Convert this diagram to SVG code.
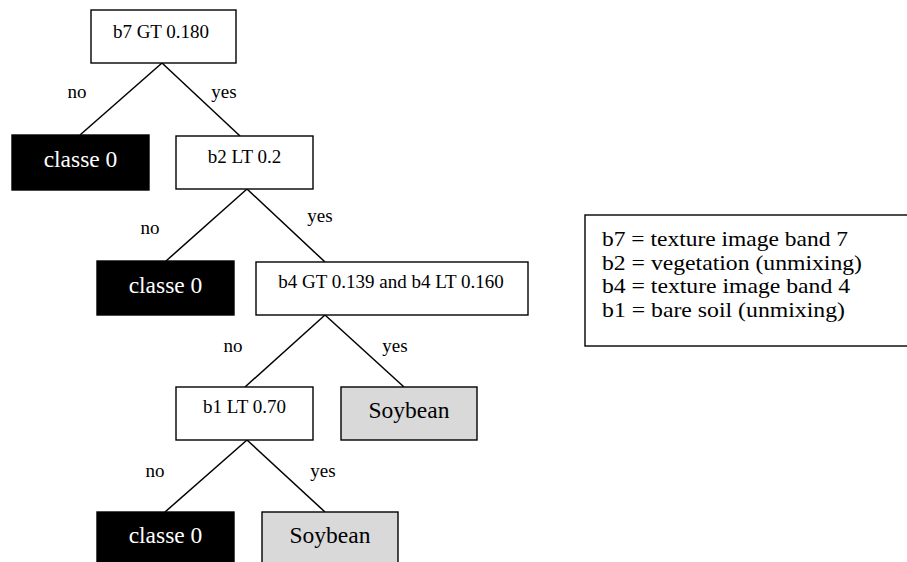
<svg xmlns="http://www.w3.org/2000/svg" width="907" height="562" viewBox="0 0 907 562">
<style>
text{font-family:'Liberation Serif','Times New Roman','DejaVu Serif',serif;fill:#000}
.box{fill:#fff;stroke:#000;stroke-width:1.4}
.blk{fill:#000;stroke:#000;stroke-width:1.4}
.gry{fill:#d9d9d9;stroke:#000;stroke-width:1.4}
.t19{font-size:19px;text-anchor:middle}
.t23{font-size:23.5px;text-anchor:middle}
.w{fill:#fff}
.lbl{font-size:19px;text-anchor:middle}
.edge{stroke:#000;stroke-width:1.5;fill:none}
.leg{font-size:21.5px}
</style>
<rect width="907" height="562" fill="#fff"/>
<g id="connectors">
<line class="edge" x1="162" y1="63" x2="80" y2="135"/>
<line class="edge" x1="162" y1="63" x2="240" y2="136"/>
<line class="edge" x1="247" y1="189" x2="166" y2="261"/>
<line class="edge" x1="247" y1="189" x2="325" y2="262"/>
<line class="edge" x1="325" y1="315" x2="245" y2="387"/>
<line class="edge" x1="325" y1="315" x2="404" y2="387"/>
<line class="edge" x1="247" y1="440" x2="165" y2="512"/>
<line class="edge" x1="247" y1="440" x2="325" y2="512"/>
<text class="lbl" x="77" y="98" font-family="Liberation Serif, serif">no</text>
<text class="lbl" x="224" y="98" font-family="Liberation Serif, serif">yes</text>
<text class="lbl" x="150" y="234" font-family="Liberation Serif, serif">no</text>
<text class="lbl" x="320" y="222" font-family="Liberation Serif, serif">yes</text>
<text class="lbl" x="233" y="352" font-family="Liberation Serif, serif">no</text>
<text class="lbl" x="395" y="352" font-family="Liberation Serif, serif">yes</text>
<text class="lbl" x="155" y="477" font-family="Liberation Serif, serif">no</text>
<text class="lbl" x="323" y="477" font-family="Liberation Serif, serif">yes</text>
</g>
<g id="n_b7">
<rect class="box" x="91" y="10" width="145" height="53"/>
<text class="t19" x="161" y="38" font-family="Liberation Serif, serif">b7 GT 0.180</text>
</g>
<g id="n_c0a">
<rect class="blk" x="12" y="135" width="137" height="55"/>
<text class="t23 w" x="80.5" y="167" font-family="Liberation Serif, serif">classe 0</text>
</g>
<g id="n_b2">
<rect class="box" x="176" y="136" width="137" height="53"/>
<text class="t19" x="244.5" y="163" font-family="Liberation Serif, serif">b2 LT 0.2</text>
</g>
<g id="n_c0b">
<rect class="blk" x="97" y="261" width="137" height="54"/>
<text class="t23 w" x="165.5" y="293" font-family="Liberation Serif, serif">classe 0</text>
</g>
<g id="n_b4">
<rect class="box" x="256" y="262" width="272" height="53"/>
<text class="t19" x="391" y="288" font-family="Liberation Serif, serif">b4 GT 0.139 and b4 LT 0.160</text>
</g>
<g id="n_b1">
<rect class="box" x="176" y="387" width="137" height="53"/>
<text class="t19" x="244.5" y="413" font-family="Liberation Serif, serif">b1 LT 0.70</text>
</g>
<g id="n_soy1">
<rect class="gry" x="341" y="387" width="136" height="53"/>
<text class="t23" x="409" y="418" font-family="Liberation Serif, serif">Soybean</text>
</g>
<g id="n_c0c">
<rect class="blk" x="97" y="512" width="137" height="54"/>
<text class="t23 w" x="165.5" y="543" font-family="Liberation Serif, serif">classe 0</text>
</g>
<g id="n_soy2">
<rect class="gry" x="262" y="512" width="136" height="54"/>
<text class="t23" x="330" y="543" font-family="Liberation Serif, serif">Soybean</text>
</g>
<g id="legend">
<rect class="box" x="585" y="215" width="330" height="131"/>
<text class="leg" x="602" y="246" textLength="246" lengthAdjust="spacingAndGlyphs" font-family="Liberation Serif, serif">b7 = texture image band 7</text>
<text class="leg" x="602" y="270" textLength="260" lengthAdjust="spacingAndGlyphs" font-family="Liberation Serif, serif">b2 = vegetation (unmixing)</text>
<text class="leg" x="602" y="293" textLength="248" lengthAdjust="spacingAndGlyphs" font-family="Liberation Serif, serif">b4 = texture image band 4</text>
<text class="leg" x="602" y="317" textLength="243" lengthAdjust="spacingAndGlyphs" font-family="Liberation Serif, serif">b1 = bare soil (unmixing)</text>
</g>
</svg>
